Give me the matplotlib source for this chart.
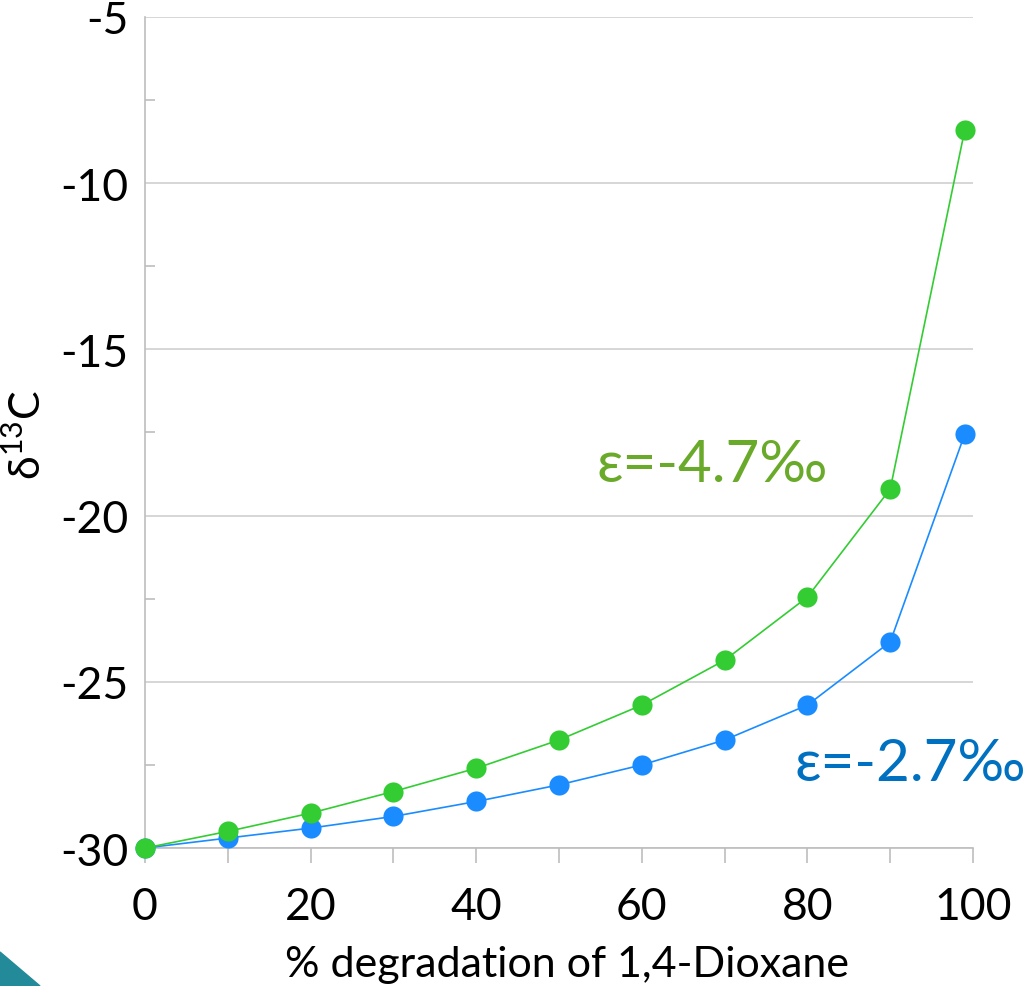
import matplotlib.pyplot as plt
import numpy as np
from matplotlib.patches import Polygon

plt.rcParams['font.family'] = ['Lato', 'DejaVu Sans']
plt.rcParams['axes.unicode_minus'] = False
plt.rcParams['mathtext.fontset'] = 'custom'
plt.rcParams['mathtext.rm'] = 'Lato'

degradation = [0, 10, 20, 30, 40, 50, 60, 70, 80, 90, 99]
d13c_green = [-30, -29.5, -28.95, -28.3, -27.6, -26.75, -25.7, -24.35, -22.45, -19.2, -8.4]
d13c_blue = [-30, -29.7, -29.4, -29.05, -28.6, -28.1, -27.5, -26.75, -25.7, -23.8, -17.55]
label_green = 'ε=-4.7‰'
label_blue = 'ε=-2.7‰'

fig = plt.figure(figsize=(10.25, 9.87), dpi=100)
ax = fig.add_axes([0.1415, 0.1398, 0.8078, 0.8420])

ax.plot(degradation, d13c_blue, color='#1a8cff', lw=1.2, marker='o', ms=14.5,
        markeredgewidth=0, zorder=3, clip_on=False)
ax.plot(degradation, d13c_green, color='#33cc33', lw=1.2, marker='o', ms=14.5,
        markeredgewidth=0, zorder=4, clip_on=False)

ax.set_xlim(0, 100)
ax.set_ylim(-30, -5)
ax.set_xticks(np.arange(0, 101, 20))
ax.set_xticks(np.arange(0, 101, 10), minor=True)
ax.set_yticks(np.arange(-30, -4, 5))
ax.set_yticks(np.arange(-27.5, -5, 5), minor=True)
ax.grid(axis='y', which='major', color='#d0d0d0', lw=1.2)
ax.set_axisbelow(True)

for s in ['top', 'right']:
    ax.spines[s].set_visible(False)
for s in ['left', 'bottom']:
    ax.spines[s].set_color('#bdbdbd')
    ax.spines[s].set_linewidth(1.2)

ax.tick_params(axis='x', which='both', direction='out', length=11, width=1.2,
               color='#bdbdbd', labelsize=32, pad=16)
ax.tick_params(axis='y', which='major', length=0, labelsize=32, pad=12)
ax.tick_params(axis='y', which='minor', direction='in', length=7, width=1.2,
               color='#bdbdbd')

ax.set_xlabel('% degradation of 1,4-Dioxane', fontsize=31)
ax.xaxis.set_label_coords(0.51, -0.117)
ax.set_ylabel(r'δ$^{13}$C', fontsize=31)
ax.yaxis.set_label_coords(-0.117, 0.498)

ax.text(68.5, -18.45, label_green, color='#6aaa2a', fontsize=42,
        ha='center', va='center')
ax.text(92.4, -27.47, label_blue, color='#0070c0', fontsize=42,
        ha='center', va='center', clip_on=False)

# decorative corner triangle from the slide
fig.patches.append(Polygon([[0, 0], [0, 34 / 987], [40 / 1025, 0]],
                           closed=True, transform=fig.transFigure,
                           color='#238a99', zorder=0))

fig.savefig('out.png', dpi=100)
